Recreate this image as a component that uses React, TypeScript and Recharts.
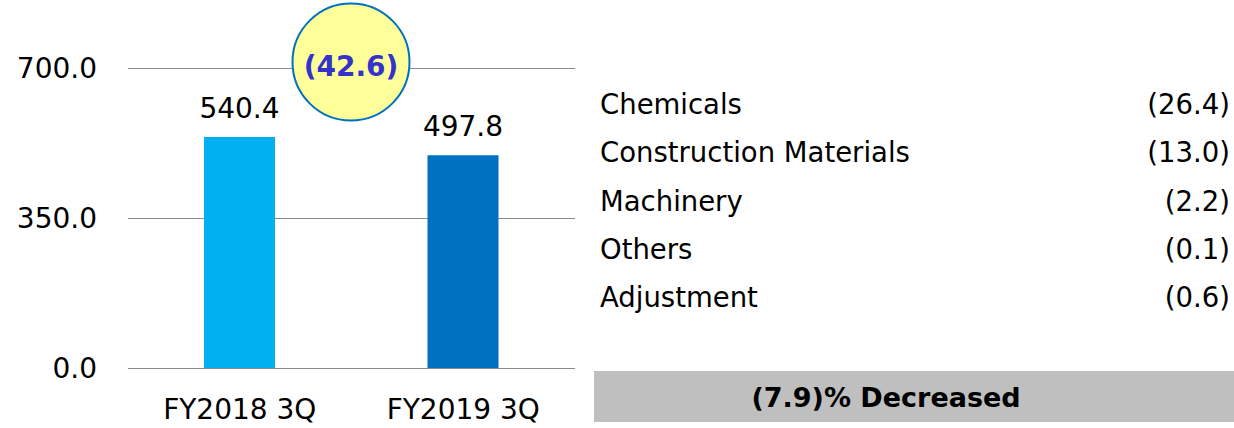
import { Bar, BarChart, CartesianGrid, Cell, LabelList, XAxis, YAxis } from 'recharts'

const periods = ['FY2018 3Q', 'FY2019 3Q']
const sales = [540.4, 497.8]
const barColors = ['#00B0F0', '#0070C0']
const yTicks = [0, 350, 700]
const changeLabel = '(42.6)'
const segmentNames = ['Chemicals', 'Construction Materials', 'Machinery', 'Others', 'Adjustment']
const segmentChanges = ['(26.4)', '(13.0)', '(2.2)', '(0.1)', '(0.6)']
const summaryText = '(7.9)% Decreased'

const FONT = '"DejaVu Sans", Verdana, sans-serif'
const GRID = '#8C8C8C'

export default function App() {
  const data = periods.map((period, i) => ({ period, value: sales[i] }))

  return (
    <div style={{ position: 'relative', width: 1234, height: 428, background: '#fff', fontFamily: FONT }}>
      <style>{'body{margin:0}'}</style>
      <BarChart width={600} height={428} data={data} margin={{ top: 68.5, right: 25, bottom: 0, left: 0 }}>
        <CartesianGrid vertical={false} stroke={GRID} />
        <XAxis
          dataKey="period"
          height={59.5}
          interval={0}
          axisLine={{ stroke: GRID }}
          tickLine={false}
          tickMargin={25}
          tick={{ fill: '#000', fontSize: 28, fontFamily: FONT }}
        />
        <YAxis
          domain={[0, 700]}
          ticks={yTicks}
          width={128}
          axisLine={false}
          tickLine={false}
          tickMargin={25}
          tickFormatter={(v: number) => v.toFixed(1)}
          tick={{ fill: '#000', fontSize: 28, fontFamily: FONT }}
        />
        <Bar dataKey="value" barSize={71} isAnimationActive={false}>
          {data.map((d, i) => (
            <Cell key={d.period} fill={barColors[i]} />
          ))}
          <LabelList
            dataKey="value"
            position="top"
            offset={19}
            formatter={(v: any) => Number(v).toFixed(1)}
            style={{ fill: '#000', fontSize: 28, fontFamily: FONT }}
          />
        </Bar>
      </BarChart>

      <svg width={1234} height={428} style={{ position: 'absolute', left: 0, top: 0, pointerEvents: 'none' }}>
        {/* change bubble */}
        <circle cx={351} cy={62} r={58.5} fill="#FFFF99" stroke="#0070C0" strokeWidth={2} />
        <text x={351} y={76} textAnchor="middle" fontSize={28} fontWeight="bold" fill="#3333CC" fontFamily={FONT}>
          {changeLabel}
        </text>

        {/* segment breakdown */}
        {segmentNames.map((name, i) => (
          <g key={name}>
            <text x={600} y={114 + 48.25 * i} fontSize={27.5} fill="#000" fontFamily={FONT}>
              {name}
            </text>
            <text x={1230} y={114 + 48.25 * i} fontSize={27.5} fill="#000" fontFamily={FONT} textAnchor="end">
              {segmentChanges[i]}
            </text>
          </g>
        ))}

        <rect x={594} y={371} width={640} height={51} fill="#BFBFBF" />
        <text x={886} y={407} textAnchor="middle" fontSize={27} fontWeight="bold" fill="#000" fontFamily={FONT}>
          {summaryText}
        </text>
      </svg>
    </div>
  )
}
